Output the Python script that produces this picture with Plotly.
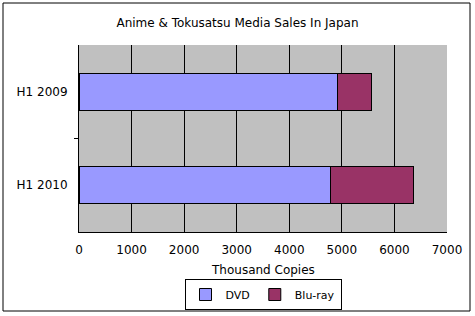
import plotly.graph_objects as go

categories = ["H1 2009", "H1 2010"]
dvd = [4910, 4780]
bluray = [655, 1585]
x_ticks = [0, 1000, 2000, 3000, 4000, 5000, 6000, 7000]
grid_vals = [1000, 2000, 3000, 4000, 5000, 6000]

W, H = 475, 316
L, R, T, B = 79, 28, 45, 84
pw, ph = W - L - R, H - T - B

def px(x):
    return (x - L) / pw

def py(y):
    return (H - B - y) / ph

fig = go.Figure()
fig.add_trace(go.Bar(y=categories, x=dvd, name="DVD", orientation="h",
                     marker=dict(color="#9999FF", line=dict(color="black", width=1))))
fig.add_trace(go.Bar(y=categories, x=bluray, name="Blu-ray", orientation="h",
                     marker=dict(color="#993366", line=dict(color="black", width=1))))

font = "DejaVu Sans, sans-serif"
fig.update_layout(
    width=W, height=H, barmode="stack", bargap=0.6,
    margin=dict(l=L, r=R, t=T, b=B, autoexpand=False),
    paper_bgcolor="white", plot_bgcolor="#C0C0C0",
    font=dict(family=font, size=12, color="black"),
    title=dict(text="Anime & Tokusatsu Media Sales In Japan", x=0.5, xanchor="center",
               xref="container", y=1 - 23 / H, yanchor="middle", font=dict(size=12)),
    xaxis=dict(range=[0, 7000], tickvals=x_ticks, showgrid=False, automargin=False,
               minor=dict(tickvals=grid_vals, showgrid=True, gridcolor="black", gridwidth=1, ticks=""),
               showline=True, linecolor="black", linewidth=1, zeroline=False,
               ticks="", ticklabelstandoff=7),
    yaxis=dict(categoryorder="array", categoryarray=categories, autorange="reversed",
               showline=True, linecolor="black", linewidth=1, showgrid=False, ticks="",
               automargin=False, ticklabelstandoff=8),
    legend=dict(orientation="h", xref="container", yref="container",
                x=263 / W, xanchor="center", y=1 - 279 / H, yanchor="top",
                bordercolor="black", borderwidth=1, font=dict(size=11),
                itemwidth=30, traceorder="normal"),
    showlegend=True,
)

# x-axis title placed at the reference position
fig.add_annotation(text="Thousand Copies", xref="paper", yref="paper",
                   x=px(263), y=py(270), xanchor="center", yanchor="middle",
                   showarrow=False, font=dict(size=12))

# chart frame
fig.add_shape(type="rect", xref="paper", yref="paper",
              x0=px(3), x1=px(470), y0=py(311), y1=py(3),
              line=dict(color="black", width=1), fillcolor="rgba(0,0,0,0)", layer="below")
# category boundary tick
fig.add_shape(type="line", xref="paper", yref="paper", x0=px(74), x1=0, y0=0.5, y1=0.5,
              line=dict(color="black", width=1))

fig.write_html("out.html")
